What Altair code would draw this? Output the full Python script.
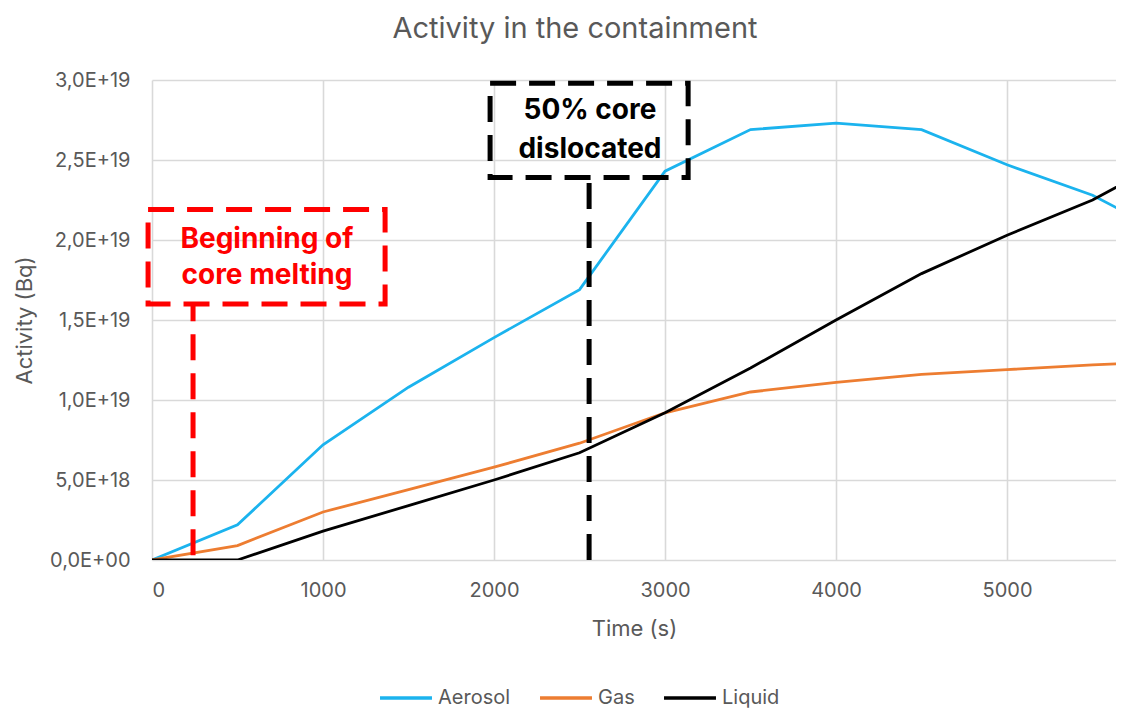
import altair as alt
import pandas as pd

# ---- data (activity in units of 1e18 Bq) ----
TIME = [0, 500, 1000, 1500, 2000, 2500, 3000, 3500, 4000, 4500, 5000, 5500, 6000]
AEROSOL = [0, 2.2, 7.2, 10.8, 13.9, 16.9, 24.3, 26.9, 27.3, 26.9, 24.7, 22.8, 20.0]
GAS = [0, 0.9, 3.0, 4.4, 5.8, 7.3, 9.2, 10.5, 11.1, 11.6, 11.9, 12.2, 12.4]
LIQUID = [0, 0, 1.8, 3.4, 5.0, 6.7, 9.2, 12.0, 15.0, 17.9, 20.3, 22.5, 25.4]
SERIES = ["Aerosol", "Gas", "Liquid"]
COLORS = ["#1BB3EE", "#ED7D31", "#000000"]
UNIT = 1e18

X_MAX = 5637
X_TICKS = [0, 1000, 2000, 3000, 4000, 5000]
Y_TICKS = [0, 5e18, 1e19, 1.5e19, 2e19, 2.5e19, 3e19]

# annotation: beginning of core melting
MELT_BOX_T = [-23, 1363]
MELT_BOX_V = [16.0, 21.9]
MELT_LINE_T = 240
MELT_LINE_V = [0.3, 16.0]
MELT_LABELS = ["Beginning of", "core melting"]
MELT_LABEL_T = 672
MELT_LABEL_V = [20.0, 17.75]

# annotation: 50% core dislocated
DIS_BOX_T = [1977, 3135]
DIS_BOX_V = [23.9, 29.8]
DIS_LINE_T = 2556
DIS_LINE_V = [0.0, 23.9]
DIS_LABELS = ["50% core", "dislocated"]
DIS_LABEL_T = 2561
DIS_LABEL_V = [28.06, 25.6]

FONT = "Inter"
GREY = "#595959"
RED = "#FF0000"

rows = []
for name, vals in zip(SERIES, [AEROSOL, GAS, LIQUID]):
    for t, v in zip(TIME, vals):
        rows.append({"t": t, "v": v * UNIT, "series": name})
df = pd.DataFrame(rows)

xscale = alt.Scale(domain=[0, X_MAX], nice=False, zero=False)
yscale = alt.Scale(domain=[0, 3e19], nice=False)

y_label_expr = ("datum.value == 0 ? '0,0E+00' : "
                "replace(replace(format(datum.value, '.1e'), '.', ','), 'e', 'E')")

lines = alt.Chart(df).mark_line(strokeWidth=2.8, clip=True).encode(
    x=alt.X("t:Q", scale=xscale, title="Time (s)",
            axis=alt.Axis(values=X_TICKS, format="d", grid=True, gridColor="#D9D9D9",
                          gridWidth=1.6, domain=False, ticks=False, labelPadding=20,
                          labelFontSize=20, labelColor=GREY, labelFont=FONT,
                          titleFontSize=22, titleColor=GREY, titleFont=FONT,
                          titleFontWeight="normal", titlePadding=18)),
    y=alt.Y("v:Q", scale=yscale, title="Activity (Bq)",
            axis=alt.Axis(values=Y_TICKS, labelExpr=y_label_expr, grid=True,
                          gridColor="#D9D9D9", gridWidth=1.6, domain=False, ticks=False,
                          labelPadding=22, labelFontSize=20, labelColor=GREY,
                          labelFont=FONT, titleFontSize=22, titleColor=GREY,
                          titleFont=FONT, titleFontWeight="normal", titlePadding=13)),
    color=alt.Color("series:N", scale=alt.Scale(domain=SERIES, range=COLORS),
                    legend=alt.Legend(title=None, orient="none", direction="horizontal",
                                      legendX=226, legendY=590, symbolType="stroke",
                                      symbolSize=2700, symbolStrokeWidth=3.5,
                                      labelFontSize=20, labelColor=GREY, labelFont=FONT,
                                      columnPadding=22, labelOffset=4, columns=3,
                                      padding=0)),
)

def box(ts, vs, color):
    d = pd.DataFrame({"t": [ts[0]], "t2": [ts[1]], "v": [vs[0] * UNIT], "v2": [vs[1] * UNIT]})
    return alt.Chart(d).mark_rect(fill=None, fillOpacity=0, stroke=color, strokeWidth=5,
                                  strokeDash=[26, 13], clip=False).encode(
        x=alt.X("t:Q", scale=xscale), x2="t2:Q",
        y=alt.Y("v:Q", scale=yscale), y2="v2:Q")

def vline(t, vs, color):
    d = pd.DataFrame({"t": [t], "v": [vs[0] * UNIT], "v2": [vs[1] * UNIT]})
    return alt.Chart(d).mark_rule(stroke=color, strokeWidth=5, strokeDash=[26, 13]).encode(
        x=alt.X("t:Q", scale=xscale), y=alt.Y("v:Q", scale=yscale), y2="v2:Q")

def labels(texts, t, vs, color):
    d = pd.DataFrame({"t": [t] * len(texts), "v": [v * UNIT for v in vs], "label": texts})
    return alt.Chart(d).mark_text(color=color, fontSize=28, fontWeight="bold", font=FONT,
                                  align="center", baseline="middle").encode(
        x=alt.X("t:Q", scale=xscale), y=alt.Y("v:Q", scale=yscale), text="label:N")

chart = alt.layer(
    lines,
    vline(MELT_LINE_T, MELT_LINE_V, RED),
    box(MELT_BOX_T, MELT_BOX_V, RED),
    labels(MELT_LABELS, MELT_LABEL_T, MELT_LABEL_V, RED),
    vline(DIS_LINE_T, DIS_LINE_V, "#000000"),
    box(DIS_BOX_T, DIS_BOX_V, "#000000"),
    labels(DIS_LABELS, DIS_LABEL_T, DIS_LABEL_V, "#000000"),
).properties(
    width=964, height=480,
    title=alt.TitleParams("Activity in the containment", fontSize=29, color=GREY,
                          font=FONT, fontWeight="normal", anchor="middle", dx=-59,
                          offset=26),
    padding={"left": 144, "top": 72, "right": 0, "bottom": 150},
    autosize=alt.AutoSizeParams(type="none"),
    background="white",
).configure_view(stroke=None)

chart.save("out.html", embed_options={"renderer": "svg", "actions": False})
